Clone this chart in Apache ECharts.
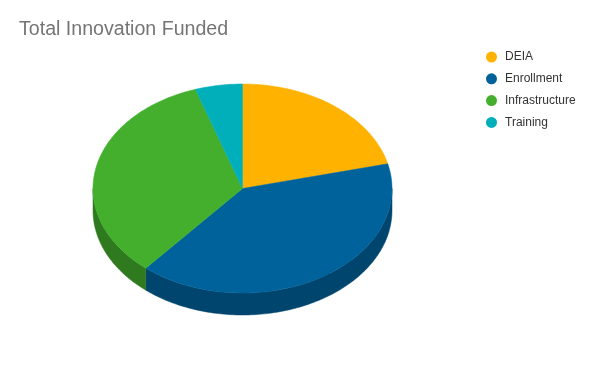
<!DOCTYPE html>
<html>
<head>
<meta charset="utf-8">
<script src="https://cdn.jsdelivr.net/npm/echarts@6/dist/echarts.min.js"></script>
<style>
html,body{margin:0;padding:0;background:#fff;}
#chart{width:594px;height:368px;}
</style>
</head>
<body>
<div id="chart"></div>
<script>
const titleText = 'Total Innovation Funded';
const categories = ['DEIA', 'Enrollment', 'Infrastructure', 'Training'];
const values = [21.2, 40.0, 33.7, 5.1];
const topColors = ['#FFB300', '#00629B', '#43AF2C', '#00AFBA'];
const sideColors = ['#B37D00', '#00456D', '#2F7A1F', '#007A82'];

// layout of the tilted pie
const CX = 242.5, CY = 188.5, RX = 149.5, RY = 104.5, DEPTH = 22;

const total = values.reduce((a, b) => a + b, 0);
const starts = [];
values.reduce((acc, v, i) => { starts[i] = acc; return acc + v; }, 0);

function pt(deg, dy) {
  const r = deg * Math.PI / 180;
  return [CX + RX * Math.sin(r), CY - RY * Math.cos(r) + (dy || 0)];
}
function arc(a1, a2, dy) {
  const pts = [];
  const n = Math.max(2, Math.ceil(Math.abs(a2 - a1)));
  for (let k = 0; k <= n; k++) pts.push(pt(a1 + (a2 - a1) * k / n, dy));
  return pts;
}

function makeRender(i) {
  return function (params, api) {
    const v = api.value(0);
    const s = api.value(1);
    const a1 = s / total * 360, a2 = (s + v) / total * 360;
    const children = [];
    const w1 = Math.max(a1, 90), w2 = Math.min(a2, 270);
    if (w2 > w1) {
      const top = arc(w1, w2, 0);
      const bot = arc(w2, w1, DEPTH);
      children.push({
        type: 'polygon', z2: 1,
        shape: { points: top.concat(bot) },
        style: { fill: sideColors[i], stroke: sideColors[i], lineWidth: 0.5 }
      });
    }
    children.push({
      type: 'polygon', z2: 10,
      shape: { points: [[CX, CY]].concat(arc(a1, a2, 0)) },
      style: { fill: topColors[i], stroke: topColors[i], lineWidth: 0.5 }
    });
    return { type: 'group', children: children };
  };
}

const chart = echarts.init(document.getElementById('chart'), null, { renderer: 'canvas' });
chart.setOption({
  animation: false,
  backgroundColor: '#fff',
  title: {
    text: titleText, left: 14, top: 15,
    textStyle: { fontFamily: 'Liberation Sans, Arial, sans-serif', fontSize: 19.6, fontWeight: 'normal', color: '#757575' }
  },
  legend: {
    orient: 'vertical', left: 481, top: 46,
    itemWidth: 11, itemHeight: 11, itemGap: 9.8, icon: 'circle',
    data: categories,
    textStyle: { fontFamily: 'Liberation Sans, Arial, sans-serif', fontSize: 12, color: '#333', padding: [0, 0, 0, 3] }
  },
  series: categories.map((name, i) => ({
    type: 'custom', name: name, coordinateSystem: 'none',
    itemStyle: { color: topColors[i] },
    renderItem: makeRender(i),
    data: [[values[i], starts[i]]]
  }))
});
</script>
</body>
</html>
